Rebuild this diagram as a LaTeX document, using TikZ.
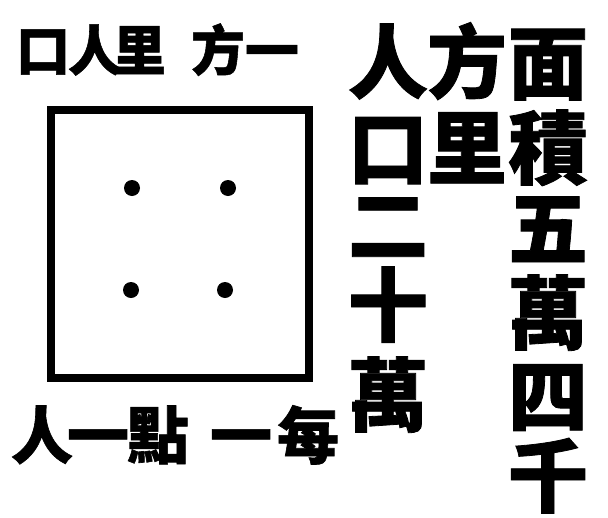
\documentclass[tikz,border=0pt]{standalone}
\usepackage{fontspec}
\newfontfamily\cjk{Noto Sans CJK TC}[BoldFeatures={FakeBold=1}]
\tikzset{
  big/.style={inner sep=0pt, font=\cjk\bfseries\fontsize{80}{80}\selectfont, text height=70pt, text depth=10pt},
  midc/.style={inner sep=0pt, font=\cjk\bfseries\fontsize{62}{62}\selectfont, text height=54.5pt, text depth=7.5pt},
  smallc/.style={inner sep=0pt, font=\cjk\bfseries\fontsize{54}{54}\selectfont, text height=47.5pt, text depth=6.5pt},
  dot/.style={circle, fill=black, inner sep=0pt, minimum size=16pt},
  mapbox/.style={draw=black, line width=8pt, inner sep=0pt, minimum width=258pt, minimum height=268pt}
}
\begin{document}
\begin{tikzpicture}[x=1pt, y=-1pt]
\useasboundingbox (0,0) rectangle (608,517);
% right column
\node[big] (r1) at (548,63) {面};
\node[big] (r2) at (548,148) {積};
\node[big] (r3) at (548,228) {五};
\node[big] (r4) at (548,313) {萬};
\node[big] (r5) at (548,396) {四};
\node[big] (r6) at (548,476) {千};
% middle column
\node[big] (m1) at (467,62) {方};
\node[big] (m2) at (467,148) {里};
% left column
\node[big] (l1) at (388,62) {人};
\node[big] (l2) at (388,148) {口};
\node[big] (l3) at (388,225) {二};
\node[big] (l4) at (388,305) {十};
\node[big] (l5) at (388,395) {萬};
% top row
\node[smallc] (t1) at (43,50) {口};
\node[smallc] (t2) at (95,50) {人};
\node[smallc] (t3) at (139,50) {里};
\node[smallc] (t4) at (218,50) {方};
\node[smallc] (t5) at (272,50) {一};
% map
\node[mapbox] (map) at (180,244) {};
\node[dot] (d1) at (132,188) {};
\node[dot] (d2) at (228,188) {};
\node[dot] (d3) at (131,290) {};
\node[dot] (d4) at (225,290) {};
% bottom row
\node[midc] (b1) at (42,435) {人};
\node[midc] (b2) at (98,435) {一};
\node[midc] (b3) at (158,435) {點};
\node[midc] (b4) at (241,435) {一};
\node[midc] (b5) at (308,435) {每};
\end{tikzpicture}
\end{document}
